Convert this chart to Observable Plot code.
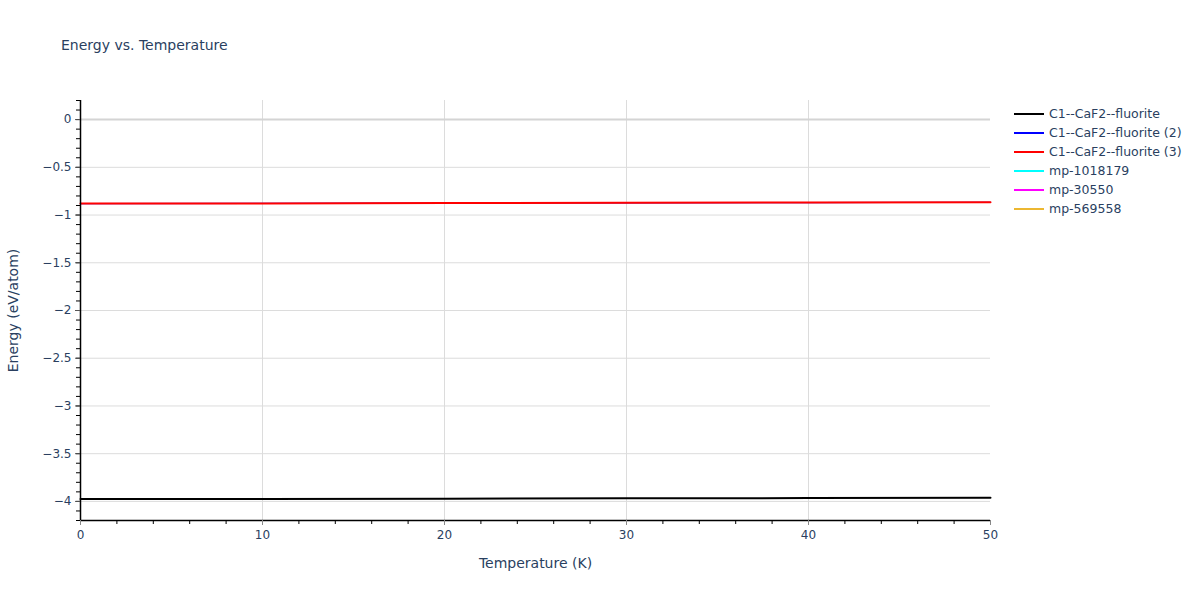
<!DOCTYPE html>
<html>
<head>
<meta charset="utf-8">
<script src="https://cdn.jsdelivr.net/npm/d3@7"></script>
<script src="https://cdn.jsdelivr.net/npm/@observablehq/plot@0.6"></script>
<style>
  html, body { margin: 0; padding: 0; background: #fff; }
  #wrap { position: relative; width: 1200px; height: 600px; font-family: "DejaVu Sans", "Open Sans", sans-serif; color: #2a3f5f; }
  #title { position: absolute; left: 61px; top: 37px; font-size: 14px; color: #2a3f5f; white-space: nowrap; }
  #legend { position: absolute; left: 1014px; top: 104px; font-size: 12.5px; color: #2a3f5f; }
  .item { height: 19px; display: flex; align-items: center; white-space: nowrap; }
  .swatch { width: 30px; height: 2px; margin-right: 5px; }
  #chart { position: absolute; left: 0; top: 0; }
</style>
</head>
<body>
<div id="wrap">
  <div id="chart"></div>
  <div id="title">Energy vs. Temperature</div>
  <div id="legend"></div>
</div>
<script>
// ---- data ----
const seriesNames = ["C1--CaF2--fluorite", "C1--CaF2--fluorite (2)", "C1--CaF2--fluorite (3)", "mp-1018179", "mp-30550", "mp-569558"];
const seriesColors = ["#000000", "#0000ff", "#ff0000", "#00ffff", "#ff00ff", "#ecb731"];
const temperatures = [0, 10, 20, 30, 40, 50];
const energyFluorite = [-3.976, -3.974, -3.971, -3.968, -3.965, -3.962];
const energyFluorite2 = [-0.880, -0.878, -0.875, -0.872, -0.869, -0.866];
const energyFluorite3 = [-0.880, -0.878, -0.875, -0.872, -0.869, -0.866];
const energyMp1018179 = [];
const energyMp30550 = [];
const energyMp569558 = [];
const yMajorTicks = [0, -0.5, -1, -1.5, -2, -2.5, -3, -3.5, -4];
const xMajorTicks = [0, 10, 20, 30, 40, 50];

const seriesValues = [energyFluorite, energyFluorite2, energyFluorite3, energyMp1018179, energyMp30550, energyMp569558];
const seriesRows = seriesNames.map((name, i) =>
  seriesValues[i].map((v, j) => ({series: name, T: temperatures[j], E: v})));

const yMinor = d3.range(-42, 3).map(d => d / 10);
const xMinor = d3.range(0, 51, 2);
const fmt = d3.format("~g");

const lineMarks = seriesRows.map((rows, i) =>
  Plot.line(rows, { x: "T", y: "E", stroke: seriesColors[i], strokeWidth: i === 1 ? 1.2 : 2 }));

const chart = Plot.plot({
  width: 1200,
  height: 600,
  marginLeft: 80,
  marginRight: 210,
  marginTop: 100,
  marginBottom: 80,
  style: { fontFamily: "'DejaVu Sans', 'Open Sans', sans-serif", color: "#2a3f5f", background: "transparent" },
  x: { domain: [0, 50] },
  y: { domain: [-4.2, 0.2] },
  marks: [
    Plot.gridX([10, 20, 30, 40], { stroke: "#dcdcdc", strokeOpacity: 1 }),
    Plot.gridY(yMajorTicks.filter(d => d !== 0), { stroke: "#dcdcdc", strokeOpacity: 1 }),
    Plot.ruleY([0], { stroke: "#d4d4d4", strokeWidth: 2 }),
    ...lineMarks,
    Plot.ruleX([0], { stroke: "#000", strokeWidth: 1.5 }),
    Plot.ruleY([-4.2], { stroke: "#000", strokeWidth: 1.5 }),
    Plot.axisY(yMinor, { tickSize: 4, text: null, label: null, stroke: "#000" }),
    Plot.axisY(yMajorTicks, { tickSize: 5, tickPadding: 4, tickFormat: fmt, fontSize: 12, fill: "#2a3f5f", stroke: "#555",
      label: "Energy (eV/atom)", labelAnchor: "center", labelArrow: "none", labelOffset: 72 }),
    Plot.axisX(xMinor, { tickSize: 4, text: null, label: null, stroke: "#000" }),
    Plot.axisX(xMajorTicks, { tickSize: 5, tickPadding: 5, tickFormat: fmt, fontSize: 12, fill: "#2a3f5f", stroke: "#888",
      label: "Temperature (K)", labelAnchor: "center", labelArrow: "none", labelOffset: 47 })
  ]
});
chart.querySelectorAll("g[aria-label='y-axis label'] text, g[aria-label='x-axis label'] text").forEach(t => { t.setAttribute("font-size", "14"); t.style.fontSize = "14px"; });
document.getElementById("chart").appendChild(chart);

const legend = document.getElementById("legend");
seriesNames.forEach((name, i) => {
  const item = document.createElement("div");
  item.className = "item";
  const sw = document.createElement("div");
  sw.className = "swatch";
  sw.style.background = seriesColors[i];
  const tx = document.createElement("span");
  tx.textContent = name;
  item.appendChild(sw);
  item.appendChild(tx);
  legend.appendChild(item);
});
</script>
</body>
</html>
